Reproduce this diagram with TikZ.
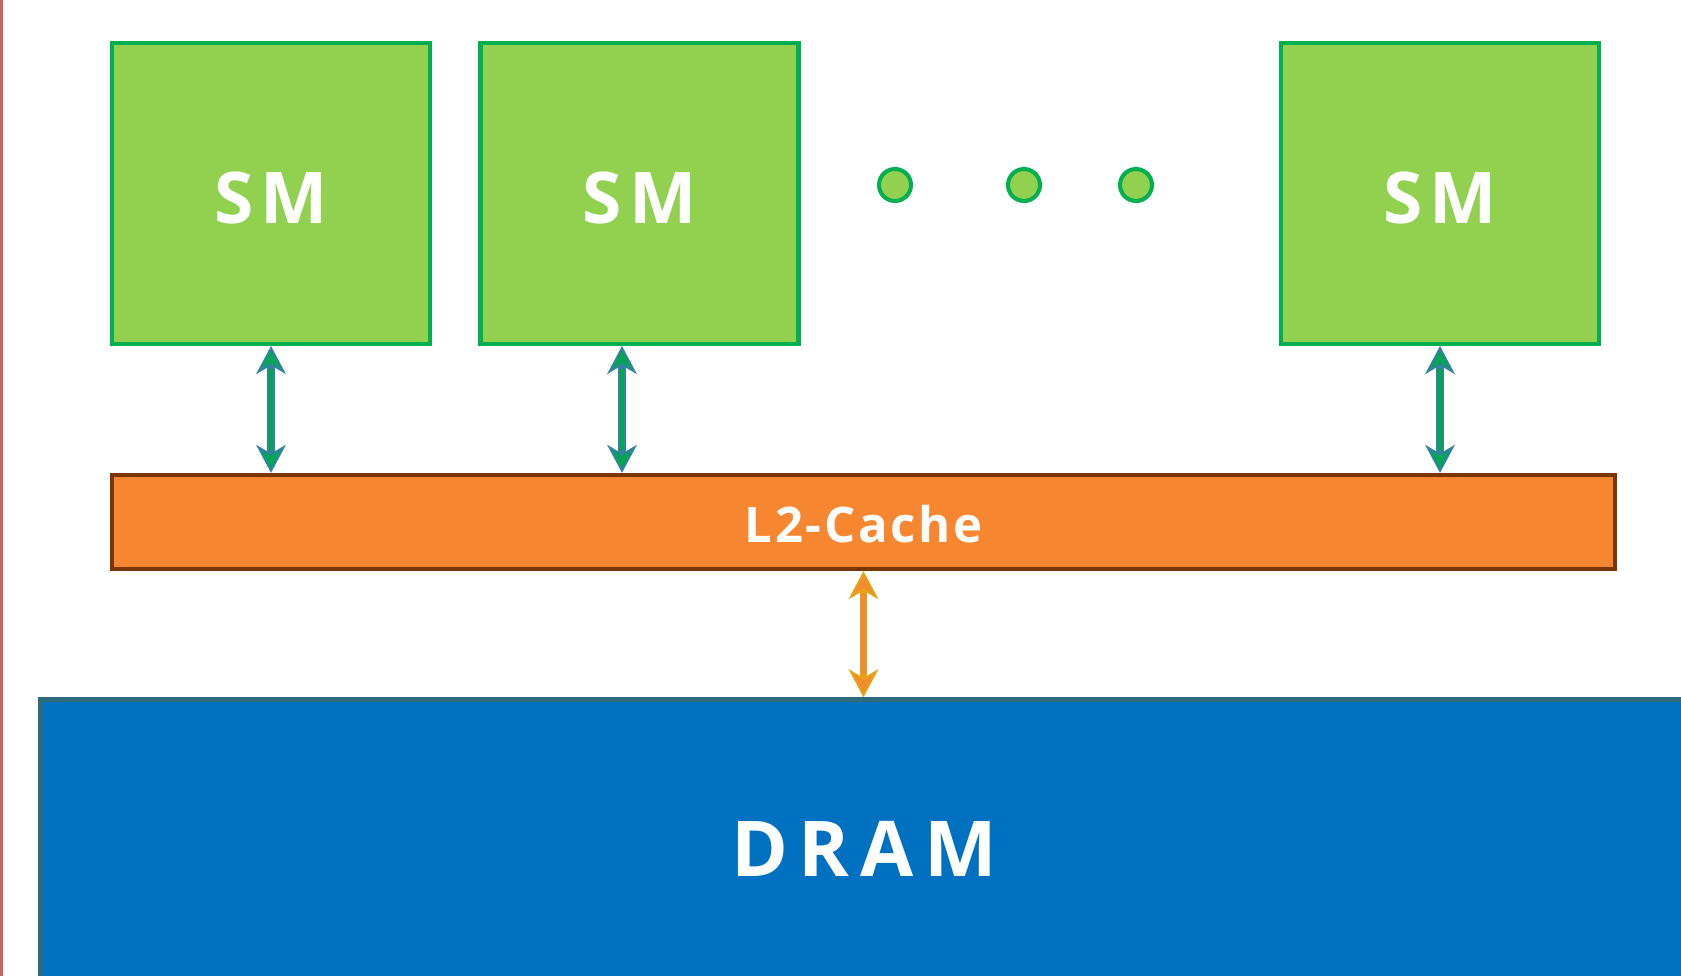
\documentclass[tikz,border=0pt]{standalone}
\usepackage{fontspec}
\setmainfont{Open Sans}
\usetikzlibrary{arrows.meta,calc,positioning}
\definecolor{SMFill}{HTML}{92D050}
\definecolor{SMLine}{HTML}{00B050}
\definecolor{CacheFill}{HTML}{F68730}
\definecolor{CacheLine}{HTML}{7B3500}
\definecolor{DramFill}{HTML}{0070C0}
\definecolor{DramLine}{HTML}{2E6B7A}
\definecolor{LinkGreen}{HTML}{00A651}
\definecolor{LinkTeal}{HTML}{31849B}
\definecolor{LinkOrange}{HTML}{F28A2E}
\definecolor{LinkGold}{HTML}{E6A117}
\definecolor{Edge}{HTML}{D0605E}

\begin{document}
\begin{tikzpicture}[
      sm/.style={draw=SMLine,fill=SMFill,line width=2.3pt,minimum width=6.36cm,
        minimum height=6.02cm,inner sep=0pt,text=white,text height=1.22cm,text depth=0pt,
        font=\fontsize{40.6}{48}\selectfont\bfseries\addfontfeatures{LetterSpace=10}},
      dot/.style={circle,draw=SMLine,fill=SMFill,line width=2.3pt,
        minimum size=0.64cm,inner sep=0pt},
      cache/.style={draw=CacheLine,fill=CacheFill,line width=2.4pt,minimum width=30.06cm,
        minimum height=1.88cm,inner sep=0pt,text=white,text height=0.84cm,text depth=0pt,
        font=\fontsize{27.9}{32}\selectfont\bfseries\addfontfeatures{LetterSpace=5.5}},
      dram/.style={draw=DramLine,fill=DramFill,line width=2.6pt,minimum width=32.94cm,
        minimum height=5.96cm,inner sep=0pt,text=white,text height=1.1cm,text depth=0pt,
        font=\fontsize{43.8}{50}\selectfont\bfseries\addfontfeatures{LetterSpace=14}},
      link/.style={draw=LinkTeal,line width=4.5pt,
        {Stealth[length=16pt,width=17pt,inset=5pt,fill=LinkGreen,line width'=1.2pt]}-%
        {Stealth[length=16pt,width=17pt,inset=5pt,fill=LinkGreen,line width'=1.2pt]}},
      core/.style={draw=LinkGreen,line width=2.4pt,shorten <=13pt,shorten >=13pt},
      buslink/.style={draw=LinkGold,line width=4.5pt,
        {Stealth[length=16pt,width=17pt,inset=5pt,fill=LinkOrange,line width'=1.2pt]}-%
        {Stealth[length=16pt,width=17pt,inset=5pt,fill=LinkOrange,line width'=1.2pt]}},
      buscore/.style={draw=LinkOrange,line width=2.4pt,shorten <=13pt,shorten >=13pt}]
      \useasboundingbox (0,0) rectangle (33.62,-19.52);
      \clip (0,0) rectangle (33.62,-19.52);
      \draw[Edge,line width=1.2pt] (0.03,0) -- (0.03,-19.52);
      % streaming multiprocessors
      \node[sm] (sm1) at (5.42,-3.87) {SM};
      \node[sm] (sm2) at (12.79,-3.87) {SM};
      \node[dot] (dot1) at (17.9,-3.7) {};
      \node[dot] (dot2) at (20.48,-3.7) {};
      \node[dot] (dot3) at (22.72,-3.7) {};
      \node[sm] (sm3) at (28.8,-3.87) {SM};
      % memory
      \node[cache] (l2) at (17.27,-10.44) {L2-Cache};
      \node[dram] (dram) at (17.28,-16.97) {DRAM};
      \coordinate (sm2link) at ([xshift=-0.35cm]sm2.south);
      \draw[link] (sm1.south) -- (sm1.south |- l2.north);
      \draw[core] (sm1.south) -- (sm1.south |- l2.north);
      \draw[link] (sm2link) -- (sm2link |- l2.north);
      \draw[core] (sm2link) -- (sm2link |- l2.north);
      \draw[link] (sm3.south) -- (sm3.south |- l2.north);
      \draw[core] (sm3.south) -- (sm3.south |- l2.north);
      \draw[buslink] (l2.south) -- (l2.south |- dram.north);
      \draw[buscore] (l2.south) -- (l2.south |- dram.north);
    \end{tikzpicture}
\end{document}
